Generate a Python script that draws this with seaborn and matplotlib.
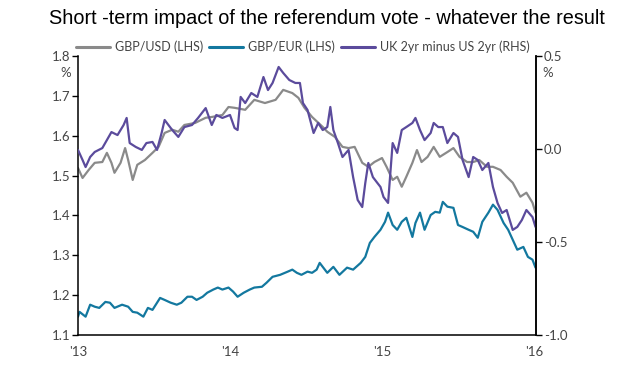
import matplotlib
matplotlib.use("Agg")
import matplotlib.pyplot as plt
from matplotlib.lines import Line2D
import seaborn as sns

# Values; x is in decimal years
usd_t = [2013.00, 2013.03, 2013.07, 2013.11, 2013.16, 2013.19, 2013.22, 2013.24, 2013.28, 2013.31,
         2013.33, 2013.36, 2013.39, 2013.44, 2013.49, 2013.53, 2013.57, 2013.62, 2013.66, 2013.70,
         2013.77, 2013.84, 2013.88, 2013.95, 2013.99, 2014.03, 2014.10, 2014.16, 2014.23, 2014.30,
         2014.35, 2014.41, 2014.45, 2014.49, 2014.54, 2014.61, 2014.64, 2014.69, 2014.74, 2014.78,
         2014.82, 2014.87, 2014.91, 2014.95, 2015.00, 2015.03, 2015.07, 2015.10, 2015.13, 2015.16,
         2015.20, 2015.23, 2015.26, 2015.30, 2015.34, 2015.38, 2015.43, 2015.47, 2015.51, 2015.56,
         2015.60, 2015.64, 2015.69, 2015.73, 2015.78, 2015.82, 2015.86, 2015.91, 2015.95, 2015.99,
         2016.01]
usd_v = [1.519, 1.494, 1.514, 1.532, 1.534, 1.557, 1.532, 1.507, 1.532, 1.569,
         1.539, 1.489, 1.527, 1.539, 1.557, 1.572, 1.607, 1.615, 1.610, 1.627,
         1.632, 1.645, 1.647, 1.652, 1.672, 1.670, 1.665, 1.690, 1.682, 1.690,
         1.715, 1.707, 1.695, 1.670, 1.647, 1.622, 1.610, 1.597, 1.572, 1.569,
         1.572, 1.532, 1.522, 1.534, 1.544, 1.522, 1.489, 1.497, 1.472, 1.497,
         1.532, 1.564, 1.534, 1.547, 1.572, 1.547, 1.559, 1.569, 1.547, 1.534,
         1.534, 1.539, 1.522, 1.522, 1.514, 1.497, 1.482, 1.447, 1.457, 1.432,
         1.407]

eur_t = [2013.00, 2013.01, 2013.05, 2013.08, 2013.11, 2013.14, 2013.18, 2013.21, 2013.24, 2013.29,
         2013.33, 2013.36, 2013.39, 2013.43, 2013.46, 2013.49, 2013.54, 2013.57, 2013.61, 2013.65,
         2013.68, 2013.72, 2013.75, 2013.78, 2013.82, 2013.85, 2013.89, 2013.92, 2013.95, 2013.99,
         2014.02, 2014.05, 2014.09, 2014.13, 2014.16, 2014.21, 2014.24, 2014.28, 2014.33, 2014.38,
         2014.41, 2014.44, 2014.47, 2014.51, 2014.54, 2014.57, 2014.59, 2014.64, 2014.68, 2014.72,
         2014.77, 2014.81, 2014.86, 2014.89, 2014.92, 2014.95, 2014.99, 2015.02, 2015.04, 2015.07,
         2015.10, 2015.13, 2015.16, 2015.20, 2015.22, 2015.25, 2015.28, 2015.32, 2015.35, 2015.38,
         2015.40, 2015.43, 2015.47, 2015.50, 2015.53, 2015.57, 2015.60, 2015.63, 2015.66, 2015.70,
         2015.73, 2015.76, 2015.80, 2015.83, 2015.86, 2015.89, 2015.93, 2015.96, 2015.99, 2016.01]
eur_v = [1.146, 1.158, 1.146, 1.176, 1.171, 1.168, 1.183, 1.181, 1.168, 1.176,
         1.171, 1.158, 1.156, 1.146, 1.168, 1.163, 1.193, 1.188, 1.181, 1.176,
         1.181, 1.196, 1.196, 1.188, 1.196, 1.206, 1.214, 1.219, 1.214, 1.219,
         1.209, 1.196, 1.206, 1.214, 1.219, 1.221, 1.231, 1.246, 1.251, 1.259,
         1.264, 1.256, 1.251, 1.259, 1.256, 1.264, 1.281, 1.256, 1.271, 1.251,
         1.269, 1.264, 1.281, 1.296, 1.331, 1.346, 1.364, 1.384, 1.407, 1.376,
         1.364, 1.384, 1.394, 1.346, 1.381, 1.407, 1.364, 1.401, 1.409, 1.407,
         1.434, 1.422, 1.419, 1.376, 1.371, 1.364, 1.359, 1.344, 1.384, 1.407,
         1.427, 1.414, 1.381, 1.364, 1.339, 1.314, 1.321, 1.296, 1.289, 1.269]

spread_t = [2013.00, 2013.03, 2013.05, 2013.08, 2013.11, 2013.16, 2013.19, 2013.22, 2013.26, 2013.30,
            2013.32, 2013.34, 2013.38, 2013.42, 2013.45, 2013.49, 2013.52, 2013.55, 2013.57, 2013.62,
            2013.66, 2013.70, 2013.75, 2013.79, 2013.84, 2013.88, 2013.91, 2013.95, 2014.00, 2014.03,
            2014.05, 2014.07, 2014.10, 2014.14, 2014.18, 2014.22, 2014.25, 2014.28, 2014.32, 2014.35,
            2014.39, 2014.43, 2014.46, 2014.48, 2014.51, 2014.55, 2014.58, 2014.61, 2014.64, 2014.66,
            2014.68, 2014.71, 2014.74, 2014.78, 2014.81, 2014.84, 2014.87, 2014.89, 2014.91, 2014.94,
            2014.97, 2014.99, 2015.01, 2015.04, 2015.07, 2015.10, 2015.13, 2015.16, 2015.20, 2015.22,
            2015.25, 2015.28, 2015.32, 2015.34, 2015.37, 2015.40, 2015.43, 2015.47, 2015.50, 2015.53,
            2015.57, 2015.60, 2015.63, 2015.66, 2015.70, 2015.73, 2015.76, 2015.79, 2015.82, 2015.86,
            2015.89, 2015.92, 2015.95, 2015.99, 2016.01]
spread_v = [-0.005, -0.059, -0.097, -0.043, -0.016, 0.005, 0.048, 0.091, 0.075, 0.129,
            0.167, 0.032, 0.011, -0.005, 0.032, 0.038, -0.005, 0.086, 0.156, 0.102,
            0.065, 0.118, 0.129, 0.167, 0.220, 0.129, 0.183, 0.167, 0.183, 0.113,
            0.102, 0.280, 0.247, 0.301, 0.280, 0.387, 0.317, 0.355, 0.441, 0.409,
            0.371, 0.355, 0.355, 0.247, 0.210, 0.086, 0.140, 0.102, 0.118, 0.226,
            0.102, 0.032, -0.043, -0.005, -0.151, -0.274, -0.312, -0.183, -0.075, -0.151,
            -0.183, -0.204, -0.258, -0.290, 0.032, -0.021, 0.102, 0.118, 0.140, 0.167,
            0.102, 0.048, 0.086, 0.140, 0.118, 0.118, 0.032, 0.086, 0.065, -0.059,
            -0.151, -0.043, -0.059, -0.113, -0.075, -0.204, -0.290, -0.344, -0.328, -0.435,
            -0.419, -0.382, -0.328, -0.366, -0.419]

x_ticks = [2013, 2014, 2015, 2016]
x_labels = ["'13", "'14", "'15", "'16"]
lhs_ticks = [1.1, 1.2, 1.3, 1.4, 1.5, 1.6, 1.7, 1.8]
rhs_ticks = [-1.0, -0.5, 0.0, 0.5]
rhs_labels = ["-1.0", "-0.5", "0.0", "0.5"]
series_names = ["GBP/USD (LHS)", "GBP/EUR (LHS)", "UK 2yr minus US 2yr (RHS)"]
colors = ["#8a8a8a", "#13789f", "#5b4b9c"]

sns.set_style("white")
plt.rcParams['font.family'] = ['Lato', 'DejaVu Sans']
plt.rcParams['axes.unicode_minus'] = False

fig = plt.figure(figsize=(6.2, 3.7), dpi=100)
ax = fig.add_axes([78 / 620, 1 - 335 / 370, 458 / 620, 279 / 370])
ax2 = ax.twinx()

sns.lineplot(x=usd_t, y=usd_v, ax=ax, color=colors[0], lw=1.6, legend=False)
sns.lineplot(x=eur_t, y=eur_v, ax=ax, color=colors[1], lw=1.6, legend=False)
sns.lineplot(x=spread_t, y=spread_v, ax=ax2, color=colors[2], lw=1.6, legend=False)

ax.set_xlim(2013, 2016 + 2 / 152)
ax.set_ylim(1.1, 1.8)
ax2.set_ylim(-1.0, 0.5)

ax.set_xticks(x_ticks)
ax.set_xticklabels(x_labels)
ax.set_yticks(lhs_ticks)
ax.set_yticklabels([f"{v:.1f}" for v in lhs_ticks])
ax2.set_yticks(rhs_ticks)
ax2.set_yticklabels(rhs_labels)

for a in (ax, ax2):
    a.spines['top'].set_visible(False)
    for s in a.spines.values():
        s.set_color('black')
        s.set_linewidth(1.1)
    a.tick_params(direction='out', length=4, width=1, color='black',
                  labelcolor='#444444', labelsize=9.5, pad=1.5)
    a.set_xlabel('')
    a.set_ylabel('')
ax.tick_params(axis='x', pad=4)
ax2.spines['left'].set_visible(False)
ax2.spines['bottom'].set_visible(False)

fig.text(66 / 620, 1 - 73 / 370, '%', ha='center', va='center', fontsize=9.5, color='#444444')
fig.text(548 / 620, 1 - 73 / 370, '%', ha='center', va='center', fontsize=9.5, color='#444444')

handles = [Line2D([], [], color=c, lw=2.2) for c in colors]
fig.legend(handles, series_names, loc='center', bbox_to_anchor=(303 / 620, 1 - 47 / 370),
           ncol=3, frameon=False, fontsize=9, handlelength=2.7, handletextpad=0.45,
           columnspacing=0.45, labelcolor='#444444')

fig.text(327 / 620, 1 - 19 / 370, 'Short -term impact of the referendum vote - whatever the result',
         ha='center', va='center', fontsize=14.3, family='Liberation Sans', color='black')

fig.savefig('out.png', dpi=100)
